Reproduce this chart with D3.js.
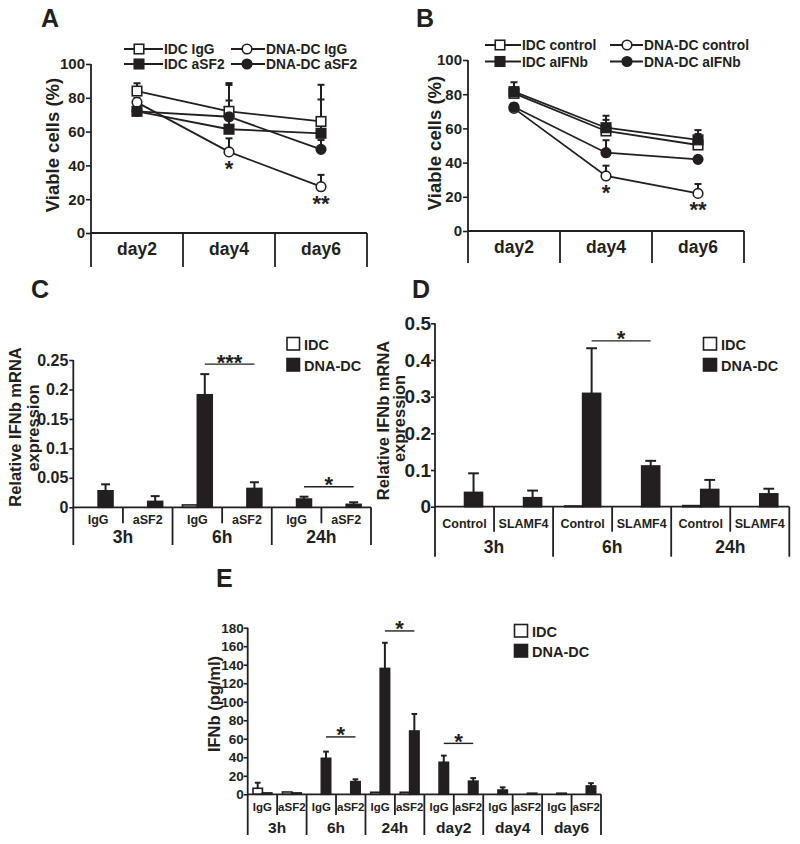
<!DOCTYPE html>
<html>
<head>
<meta charset="utf-8">
<script src="https://cdn.jsdelivr.net/npm/d3@7/dist/d3.min.js"></script>
<style>
html,body{margin:0;padding:0;background:#fff;}
svg{display:block;}
svg text{font-family:"Liberation Sans",Arial,Helvetica,sans-serif;font-weight:bold;fill:#231f20;}
</style>
</head>
<body>
<svg id="fig" width="800" height="844"></svg>
<script>
// ================= DATA =================
// Panel A : viable cells (%)
const daysA = ["day2", "day4", "day6"];
const aNames = ["IDC IgG", "IDC aSF2", "DNA-DC IgG", "DNA-DC aSF2"];
const aIdcIgG = [84, 72, 66];
const aIdcIgGErr = [4.6, 16.7, 21.7];
const aIdcASF2 = [72, 61.4, 59];
const aIdcASF2Err = [1.5, 17, 20];
const aDnaIgG = [77.3, 48, 27.4];
const aDnaIgGErr = [2.5, 8, 7];
const aDnaASF2 = [72, 68.8, 49.5];
const aDnaASF2Err = [1.5, 18.8, 5.5];
const aStarCats = ["day4", "day6"];
const aStarTexts = ["*", "**"];

// Panel B : viable cells (%)
const daysB = ["day2", "day4", "day6"];
const bNames = ["IDC control", "IDC aIFNb", "DNA-DC control", "DNA-DC aIFNb"];
const bIdcCtrl = [80.5, 58.5, 50.3];
const bIdcCtrlErr = [2.5, 6.5, 6.4];
const bIdcAIFNb = [81.5, 60.4, 53.3];
const bIdcAIFNbErr = [5.5, 7, 5.7];
const bDnaCtrl = [71.7, 32.2, 22];
const bDnaCtrlErr = [2, 6, 5.5];
const bDnaAIFNb = [72.5, 45.8, 41.9];
const bDnaAIFNbErr = [2, 7.3, 1.5];
const bStarCats = ["day4", "day6"];
const bStarTexts = ["*", "**"];

const yTicksAB = [0, 20, 40, 60, 80, 100];

// Panel C : relative IFNb mRNA expression
const cGroups = ["3h", "6h", "24h"];
const cSubs = ["IgG", "aSF2"];
const cIdc = [0, 0, 0.004, 0, 0, 0];
const cIdcErr = [0, 0, 0, 0, 0, 0];
const cDna = [0.028, 0.010, 0.191, 0.032, 0.014, 0.005];
const cDnaErr = [0.011, 0.009, 0.035, 0.0105, 0.004, 0.0035];
const cTicks = [0, 0.05, 0.1, 0.15, 0.2, 0.25];
const cSig = [{group: "6h", value: 0.243, text: "***"}, {group: "24h", value: 0.035, text: "*"}];

// Panel D : relative IFNb mRNA expression
const dGroups = ["3h", "6h", "24h"];
const dSubs = ["Control", "SLAMF4"];
const dIdc = [0, 0, 0.002, 0, 0.003, 0];
const dIdcErr = [0, 0, 0, 0, 0, 0];
const dDna = [0.039, 0.0245, 0.309, 0.111, 0.047, 0.035];
const dDnaErr = [0.052, 0.0195, 0.123, 0.014, 0.026, 0.014];
const dTicks = [0, 0.1, 0.2, 0.3, 0.4, 0.5];
const dSig = [{group: "6h", value: 0.452, text: "*"}];

// Panel E : IFNb (pg/ml)
const eGroups = ["3h", "6h", "24h", "day2", "day4", "day6"];
const eSubs = ["IgG", "aSF2"];
const eIdc = [6.5, 2.5, 0, 0, 2.2, 2.2, 0, 0, 0, 0, 0, 0];
const eIdcErr = [6, 0, 0, 0, 0, 0, 0, 0, 0, 0, 0, 0];
const eDna = [1.5, 1.5, 38.9, 13.7, 136, 68.4, 34.6, 14.2, 4.6, 1.2, 1.2, 9];
const eDnaErr = [0, 0, 7.2, 2.5, 27.7, 18.4, 7.2, 3.3, 2.9, 0, 0, 3];
const eTicks = [0, 20, 40, 60, 80, 100, 120, 140, 160, 180];
const eSig = [{group: "6h", value: 62, text: "*"}, {group: "24h", value: 176.5, text: "*"}, {group: "day2", value: 55, text: "*"}];

const legendBars = ["IDC", "DNA-DC"];

// ================= DRAWING =================
const INK = "#231f20";
const svg = d3.select("#fig");
const fmt = d3.format("~g");

function txt(g, s, x, y, fs, anchor) {
  return g.append("text").attr("x", x).attr("y", y).attr("font-size", fs)
    .attr("text-anchor", anchor || "start").text(s);
}
function vTitle(g, s, x, y, fs) {
  g.append("text").attr("transform", `translate(${x},${y}) rotate(-90)`)
    .attr("text-anchor", "middle").attr("dominant-baseline", "central")
    .attr("font-size", fs).text(s);
}
function line(g, x1, y1, x2, y2, w) {
  g.append("line").attr("x1", x1).attr("y1", y1).attr("x2", x2).attr("y2", y2)
    .attr("stroke", INK).attr("stroke-width", w || 1.6);
}
function yAxis(g, y, x0, ticks, fs, size, pad) {
  const ax = g.append("g").attr("transform", `translate(${x0},0)`)
    .call(d3.axisLeft(y).tickValues(ticks).tickFormat(fmt).tickSize(size).tickPadding(pad).tickSizeOuter(0));
  ax.attr("font-family", null).attr("font-size", null);
  ax.select(".domain").remove();
  ax.selectAll(".tick line").attr("stroke", INK).attr("stroke-width", 1.6);
  ax.selectAll(".tick text").attr("font-size", fs).attr("fill", INK);
}
function marker(g, type, cx, cy) {
  const filled = type.indexOf("filled") >= 0;
  if (type.indexOf("square") >= 0) {
    const s = 9.5;
    g.append("rect").attr("x", cx - s / 2).attr("y", cy - s / 2).attr("width", s).attr("height", s)
      .attr("fill", filled ? INK : "#fff").attr("stroke", INK).attr("stroke-width", 1.6);
  } else {
    g.append("circle").attr("cx", cx).attr("cy", cy).attr("r", 4.8)
      .attr("fill", filled ? INK : "#fff").attr("stroke", INK).attr("stroke-width", 1.6);
  }
}

function linePanel(cfg) {
  const g = svg.append("g");
  const x = d3.scaleBand().domain(cfg.cats).range([cfg.x0, cfg.x1]);
  const y = d3.scaleLinear().domain([0, 100]).range([cfg.y0, cfg.yTop]);
  const cx = c => x(c) + x.bandwidth() / 2;
  yAxis(g, y, cfg.x0, cfg.ticks, 15, 5, 1);
  line(g, cfg.x0, cfg.yTop, cfg.x0, cfg.divBottom, 1.8);
  line(g, cfg.x0, cfg.y0, cfg.x1, cfg.y0, 1.8);
  cfg.cats.forEach(c => line(g, x(c) + x.bandwidth(), cfg.y0, x(c) + x.bandwidth(), cfg.divBottom, 1.8));
  cfg.cats.forEach(c => txt(g, c, cx(c), cfg.catBase, 17.5, "middle"));
  vTitle(g, "Viable cells (%)", cfg.titleX, cfg.titleY, 18.5);
  // lines
  const ln = d3.line().x((d, i) => cx(cfg.cats[i])).y(d => y(d));
  cfg.series.forEach(s => g.append("path").attr("d", ln(s.values)).attr("fill", "none")
    .attr("stroke", INK).attr("stroke-width", 1.8));
  // error bars
  cfg.series.forEach(s => s.values.forEach((v, i) => {
    const X = cx(cfg.cats[i]);
    line(g, X, y(v), X, y(v + s.err[i]), 2);
    line(g, X - 3.5, y(v + s.err[i]), X + 3.5, y(v + s.err[i]), 2);
  }));
  cfg.series.forEach(s => s.values.forEach((v, i) => marker(g, s.marker, cx(cfg.cats[i]), y(v))));
  // stars
  const ref = cfg.series[cfg.starSeries];
  cfg.starCats.forEach((c, k) => {
    const v = ref.values[cfg.cats.indexOf(c)];
    txt(g, cfg.starTexts[k], cx(c), y(v) + 24, 22, "middle");
  });
  // legend
  cfg.series.forEach((s, i) => {
    const col = Math.floor(i / 2), row = i % 2;
    const L = cfg.legend.cols[col], ry = cfg.legend.rows[row];
    line(g, L[0], ry, L[1], ry, 1.8);
    marker(g, s.marker, L[2], ry);
    txt(g, s.name, L[1] + 1, ry + 5, 13.8);
  });
}

function barPanel(cfg) {
  const g = svg.append("g");
  const xg = d3.scaleBand().domain(cfg.groups).range([cfg.x0, cfg.x1]);
  const xs = d3.scaleBand().domain(cfg.subs).range([0, xg.bandwidth()]);
  const y = d3.scaleLinear().domain([0, cfg.max]).range([cfg.y0, cfg.yTop]);
  const bw = xs.bandwidth() * cfg.barFrac;
  const rows = [];
  cfg.groups.forEach((gr, gi) => cfg.subs.forEach((s, si) => {
    const k = gi * cfg.subs.length + si;
    rows.push({gr, s, cx: xg(gr) + xs(s) + xs.bandwidth() / 2,
      idc: cfg.idc[k], idcErr: cfg.idcErr[k], dna: cfg.dna[k], dnaErr: cfg.dnaErr[k]});
  }));
  // error bars (behind bars)
  const err = (X, v, e) => {
    if (e <= 0) return;
    line(g, X, y(v), X, y(v + e), 2);
    line(g, X - bw * 0.3, y(v + e), X + bw * 0.3, y(v + e), 2);
  };
  rows.forEach(r => { err(r.cx - bw / 2, r.idc, r.idcErr); err(r.cx + bw / 2, r.dna, r.dnaErr); });
  // bars
  rows.forEach(r => {
    if (r.idc > 0) g.append("rect").attr("x", r.cx - bw).attr("y", y(r.idc)).attr("width", bw)
      .attr("height", y(0) - y(r.idc)).attr("fill", "#fff").attr("stroke", INK).attr("stroke-width", 1.6);
    if (r.dna > 0) g.append("rect").attr("x", r.cx).attr("y", y(r.dna)).attr("width", bw)
      .attr("height", y(0) - y(r.dna)).attr("fill", INK).attr("stroke", INK).attr("stroke-width", 1.6);
  });
  // axes
  yAxis(g, y, cfg.x0, cfg.ticks, cfg.tickFs, 4, cfg.tickPad);
  line(g, cfg.x0, cfg.yTop, cfg.x0, cfg.mainBottom, 1.8);
  line(g, cfg.x0, cfg.y0, cfg.x1, cfg.y0, 1.8);
  cfg.groups.forEach(gr => {
    const xr = xg(gr) + xg.bandwidth();
    line(g, xr, cfg.y0, xr, cfg.mainBottom, 1.8);
    cfg.subs.forEach((s, si) => {
      if (si > 0) line(g, xg(gr) + xs(s), cfg.y0, xg(gr) + xs(s), cfg.subBottom, 1.8);
      txt(g, s, xg(gr) + xs(s) + xs.bandwidth() / 2, cfg.subBase, cfg.subFs, "middle");
    });
    txt(g, gr, xg(gr) + xg.bandwidth() / 2, cfg.groupBase, cfg.groupFs, "middle");
  });
  // significance
  cfg.sig.forEach(sg => {
    const a = rows.find(r => r.gr === sg.group && r.s === cfg.subs[0]);
    const b = rows.find(r => r.gr === sg.group && r.s === cfg.subs[1]);
    const x1 = a.cx + bw / 2, x2 = b.cx + bw / 2, yy = y(sg.value);
    line(g, x1, yy, x2, yy, 1.4);
    txt(g, sg.text, (x1 + x2) / 2, yy + 5.5, 22, "middle");
  });
  // titles
  cfg.titles.forEach(t => vTitle(g, t.text, t.x, t.y, t.fs));
  // legend
  const L = cfg.legend;
  g.append("rect").attr("x", L.x).attr("y", L.y1).attr("width", L.w).attr("height", L.h)
    .attr("fill", "#fff").attr("stroke", INK).attr("stroke-width", 1.6);
  g.append("rect").attr("x", L.x).attr("y", L.y2).attr("width", L.w).attr("height", L.h)
    .attr("fill", INK).attr("stroke", INK).attr("stroke-width", 1.6);
  txt(g, legendBars[0], L.tx, L.y1 + L.h - 0.5, L.fs);
  txt(g, legendBars[1], L.tx, L.y2 + L.h - 0.5, L.fs);
}

// panel letters
[["A", 41, 27], ["B", 416, 27], ["C", 31, 298], ["D", 412, 298], ["E", 216, 587]].forEach(p =>
  txt(svg, p[0], p[1], p[2], 25));

linePanel({
  cats: daysA, x0: 91, x1: 367, y0: 233, yTop: 64, divBottom: 267, ticks: yTicksAB,
  catBase: 255, titleX: 52, titleY: 145,
  series: [
    {name: aNames[0], values: aIdcIgG, err: aIdcIgGErr, marker: "open square"},
    {name: aNames[1], values: aIdcASF2, err: aIdcASF2Err, marker: "filled square"},
    {name: aNames[2], values: aDnaIgG, err: aDnaIgGErr, marker: "open circle"},
    {name: aNames[3], values: aDnaASF2, err: aDnaASF2Err, marker: "filled circle"}
  ],
  starSeries: 2, starCats: aStarCats, starTexts: aStarTexts,
  legend: {cols: [[124, 163, 139], [231, 265, 247]], rows: [49, 64]}
});

linePanel({
  cats: daysB, x0: 468, x1: 744, y0: 231, yTop: 60, divBottom: 263, ticks: yTicksAB,
  catBase: 253, titleX: 434, titleY: 143,
  series: [
    {name: bNames[0], values: bIdcCtrl, err: bIdcCtrlErr, marker: "open square"},
    {name: bNames[1], values: bIdcAIFNb, err: bIdcAIFNbErr, marker: "filled square"},
    {name: bNames[2], values: bDnaCtrl, err: bDnaCtrlErr, marker: "open circle"},
    {name: bNames[3], values: bDnaAIFNb, err: bDnaAIFNbErr, marker: "filled circle"}
  ],
  starSeries: 2, starCats: bStarCats, starTexts: bStarTexts,
  legend: {cols: [[485, 521, 500], [610, 643, 627]], rows: [45, 61.5]}
});

barPanel({
  groups: cGroups, subs: cSubs, idc: cIdc, idcErr: cIdcErr, dna: cDna, dnaErr: cDnaErr,
  x0: 73.3, x1: 371, y0: 507.3, yTop: 360, max: 0.25, ticks: cTicks, tickFs: 16, tickPad: 1,
  barFrac: 0.30, subBottom: 523.3, mainBottom: 545, subBase: 523.5, subFs: 12.5,
  groupBase: 543, groupFs: 17.5, sig: cSig,
  titles: [{text: "Relative IFNb mRNA", x: 15, y: 427, fs: 16.5}, {text: "expression", x: 33, y: 428, fs: 16.5}],
  legend: {x: 287, y1: 337.5, y2: 358.5, w: 12.5, h: 12.5, tx: 304, fs: 14.5}
});

barPanel({
  groups: dGroups, subs: dSubs, idc: dIdc, idcErr: dIdcErr, dna: dDna, dnaErr: dDnaErr,
  x0: 435, x1: 789.3, y0: 506.7, yTop: 323.3, max: 0.5, ticks: dTicks, tickFs: 19, tickPad: 0,
  barFrac: 0.305, subBottom: 531.7, mainBottom: 556.7, subBase: 528, subFs: 12.5,
  groupBase: 553, groupFs: 17.5, sig: dSig,
  titles: [{text: "Relative IFNb mRNA", x: 382.5, y: 420.5, fs: 16.5}, {text: "expression", x: 399, y: 418.5, fs: 16.5}],
  legend: {x: 703.5, y1: 337.5, y2: 358.5, w: 13, h: 12.5, tx: 721, fs: 14.5}
});

barPanel({
  groups: eGroups, subs: eSubs, idc: eIdc, idcErr: eIdcErr, dna: eDna, dnaErr: eDnaErr,
  x0: 247.7, x1: 601, y0: 794.3, yTop: 627.7, max: 180, ticks: eTicks, tickFs: 13.5, tickPad: 0,
  barFrac: 0.32, subBottom: 815, mainBottom: 835, subBase: 810.5, subFs: 11.5,
  groupBase: 833, groupFs: 15.5, sig: eSig,
  titles: [{text: "IFNb (pg/ml)", x: 214, y: 704, fs: 16.5}],
  legend: {x: 514.5, y1: 624.5, y2: 644.5, w: 13, h: 12.5, tx: 532, fs: 14.5}
});
</script>
</body>
</html>
